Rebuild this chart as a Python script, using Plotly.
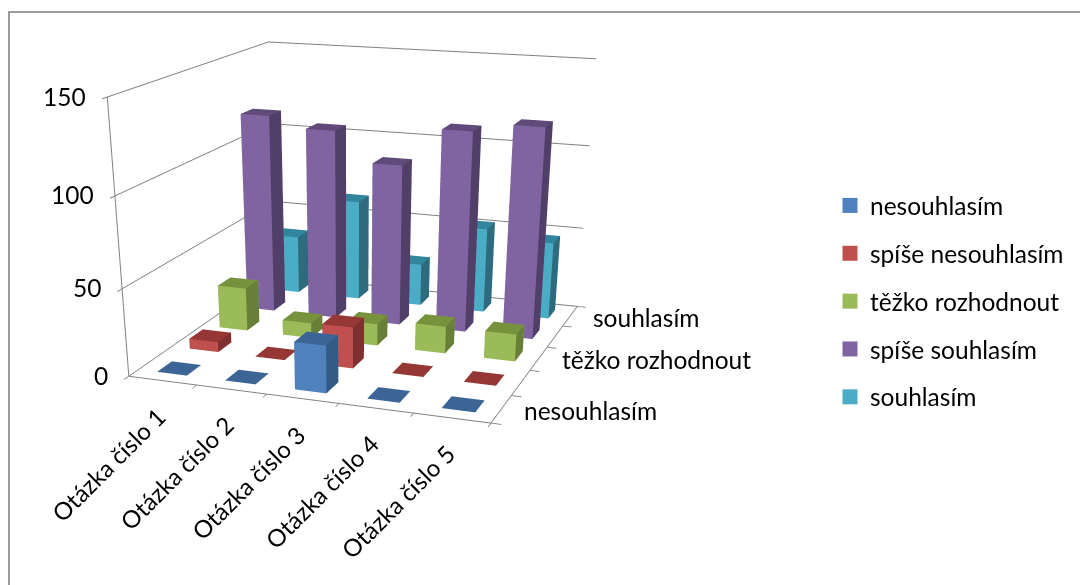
import plotly.graph_objects as go

# Survey answers per question, one list per answer option
questions = ["Otázka číslo 1", "Otázka číslo 2", "Otázka číslo 3", "Otázka číslo 4", "Otázka číslo 5"]
nesouhlasim = [0, 0, 27, 0, 0]
spise_nesouhlasim = [6, 0, 24, 0, 0]
tezko_rozhodnout = [26, 9, 13, 16, 16]
spise_souhlasim = [119, 113, 96, 118, 123]
souhlasim = [36, 62, 26, 52, 47]
series_names = ["nesouhlasím", "spíše nesouhlasím", "těžko rozhodnout", "spíše souhlasím", "souhlasím"]
series_values = [nesouhlasim, spise_nesouhlasim, tezko_rozhodnout, spise_souhlasim, souhlasim]
value_ticks = [0, 50, 100, 150]
labelled_series = [0, 2, 4]

# Face shades of each bar
front_colors = ["#4f81bd", "#c0504d", "#9bbb59", "#8064a2", "#4bacc6"]
top_colors = ["#3c6494", "#953735", "#76923c", "#5f4a79", "#31859c"]
side_colors = ["#345a85", "#7f302e", "#677f36", "#523f69", "#2f6b7e"]

# A tall canvas narrows the viewing angle of the 3D scene, which keeps the
# perspective gentle; the chart itself sits in the upper part of the canvas.
CANVAS_W, CANVAS_H = 1080, 1200
SCENE_W = 702
BAR_FILL = 0.44
AXIS_COLOR = "#808080"
TEXT = dict(family="Lato", size=24.5, color="#000000")
CATEGORY_TEXT = dict(family="Lato", size=24, color="#000000")

# Triangles of a box: (corner, corner, corner, face)
BOX_FACES = [
    (0, 1, 2, "top"), (0, 2, 3, "top"), (4, 5, 6, "top"), (4, 6, 7, "top"),
    (0, 1, 5, "front"), (0, 5, 4, "front"), (3, 2, 6, "front"), (3, 6, 7, "front"),
    (1, 2, 6, "side"), (1, 6, 5, "side"), (0, 3, 7, "side"), (0, 7, 4, "side"),
]


def bar_mesh(row, values):
    """One Mesh3d holding all bars of an answer option."""
    shades = {"front": front_colors[row], "top": top_colors[row], "side": side_colors[row]}
    xs, ys, zs, ii, jj, kk, colors = [], [], [], [], [], [], []
    for col, value in enumerate(values):
        x0, x1 = col + 0.5 - BAR_FILL / 2, col + 0.5 + BAR_FILL / 2
        y0, y1 = row + 0.5 - BAR_FILL / 2, row + 0.5 + BAR_FILL / 2
        base = len(xs)
        xs += [x0, x1, x1, x0, x0, x1, x1, x0]
        ys += [y0, y0, y1, y1, y0, y0, y1, y1]
        zs += [0, 0, 0, 0, value, value, value, value]
        for a, b, c, face in BOX_FACES:
            ii.append(base + a)
            jj.append(base + b)
            kk.append(base + c)
            colors.append(shades[face])
    return go.Mesh3d(
        x=xs, y=ys, z=zs, i=ii, j=jj, k=kk, facecolor=colors, flatshading=True,
        showlegend=False, showscale=False, hoverinfo="skip",
        lighting=dict(ambient=1, diffuse=0, specular=0, fresnel=0, roughness=1),
    )


fig = go.Figure()
for row, (name, values) in enumerate(zip(series_names, series_values)):
    fig.add_trace(bar_mesh(row, values))
    # Legend entry with a flat square key
    fig.add_trace(go.Scatter(
        x=[None], y=[None], mode="markers", name=name, legendgroup=name,
        marker=dict(symbol="square", size=15, color=front_colors[row]),
    ))

scene_labels = [
    dict(x=col + 0.5, y=0, z=0, text=label, textangle=-45, showarrow=False,
         xanchor="right", yanchor="top", xshift=11, yshift=-18, font=CATEGORY_TEXT)
    for col, label in enumerate(questions)
]
scene_labels += [
    dict(x=len(questions), y=row + 0.5, z=0, text=series_names[row], showarrow=False,
         xanchor="left", xshift=21, yshift=-1, font=TEXT)
    for row in labelled_series
]
scene_labels += [
    dict(x=0, y=0, z=tick, text=str(tick), showarrow=False,
         xanchor="right", xshift=-19, yshift=1, font=TEXT)
    for tick in value_ticks
]

axis_style = dict(
    showgrid=False, showline=True, linecolor=AXIS_COLOR, linewidth=2,
    ticks="outside", ticklen=8, tickcolor=AXIS_COLOR, tickwidth=2, title="",
    showbackground=False, zeroline=False, showspikes=False,
)
boundaries = list(range(len(questions) + 1))

fig.update_layout(
    width=CANVAS_W, height=CANVAS_H,
    margin=dict(l=0, r=0, t=0, b=0),
    paper_bgcolor="white",
    font=TEXT,
    xaxis=dict(visible=False, domain=[0, 0.01]),
    yaxis=dict(visible=False, domain=[0, 0.01]),
    scene=dict(
        domain=dict(x=[0, SCENE_W / CANVAS_W], y=[0, 1]),
        aspectmode="manual",
        aspectratio=dict(x=1, y=1.021, z=0.716),
        camera=dict(
            eye=dict(x=1.309, y=-3.785, z=0.971),
            center=dict(x=0.085, y=-0.379, z=-1.0),
            up=dict(x=0, y=0, z=1),
        ),
        annotations=scene_labels,
        xaxis=dict(range=[0, 5], tickvals=boundaries, ticktext=[""] * 6, **axis_style),
        yaxis=dict(range=[0, 5], tickvals=boundaries, ticktext=[""] * 6, **axis_style),
        zaxis=dict(range=[0, 150], tickvals=value_ticks, ticktext=[""] * 4,
                   **{**axis_style, "showgrid": True, "gridcolor": AXIS_COLOR, "gridwidth": 2}),
    ),
    legend=dict(x=830 / CANVAS_W, y=1 - 183 / CANVAS_H, xanchor="left", yanchor="top",
                font=TEXT, tracegroupgap=13, bgcolor="rgba(0,0,0,0)"),
    # Chart frame
    shapes=[dict(type="rect", xref="paper", yref="paper", x0=9 / CANVAS_W, x1=1.02,
                 y0=-0.02, y1=1 - 12 / CANVAS_H, line=dict(color="#9a9a9a", width=2))],
)

fig.write_html("out.html")
